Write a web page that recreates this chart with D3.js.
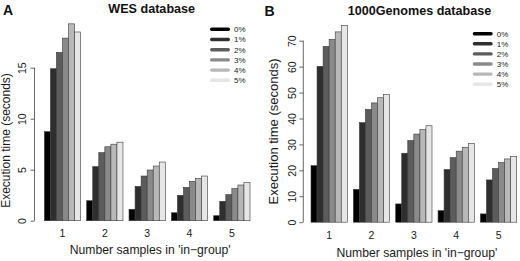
<!DOCTYPE html>
<html>
<head>
<meta charset="utf-8">
<script src="https://cdn.jsdelivr.net/npm/d3@7"></script>
<style>
  html, body { margin:0; padding:0; background:#fff; }
  svg { display:block; font-family:"Liberation Sans", Arial, Helvetica, sans-serif; }
</style>
</head>
<body>
<svg id="chart" width="520" height="261"></svg>
<script>
// ---- data ----
const groups = ["1", "2", "3", "4", "5"];
const pcts = ["0%", "1%", "2%", "3%", "4%", "5%"];
const grays = ["#000000", "#2e2e2e", "#5c5c5c", "#8a8a8a", "#b8b8b8", "#e6e6e6"];

const wesTimes = [
  [8.73, 14.9, 16.5, 17.9, 19.3, 18.5],
  [1.96, 5.3, 6.67, 7.25, 7.5, 7.7],
  [1.12, 3.37, 4.38, 4.97, 5.36, 5.75],
  [0.78, 2.49, 3.27, 3.86, 4.15, 4.38],
  [0.49, 1.9, 2.55, 3.14, 3.5, 3.73]
];
const wesTicks = [0, 5, 10, 15];

const genomesTimes = [
  [21.8, 60.1, 67.8, 70.5, 73.4, 75.9],
  [12.7, 38.4, 43.5, 46.0, 48.0, 49.2],
  [7.05, 26.6, 31.5, 34.0, 35.7, 37.2],
  [4.47, 20.3, 24.9, 27.4, 28.9, 30.3],
  [3.2, 16.3, 20.7, 23.0, 24.4, 25.4]
];
const genomesTicks = [0, 10, 20, 30, 40, 50, 60, 70];

const svg = d3.select("#chart");

function drawPanel(p){
  const g = svg.append("g");

  // barplot units: group k, bar i sits at 1 + 7k + i (R beside=TRUE spacing)
  const x = d3.scaleLinear().domain([0, 35]).range(p.xRange);
  const y = d3.scaleLinear().domain([0, p.yTop]).range(p.yRange);

  const bars = [];
  p.values.forEach((row, k) => row.forEach((v, i) => bars.push({k, i, v})));

  g.append("g")
    .selectAll("rect")
    .data(bars)
    .enter().append("rect")
    .attr("x", d => x(1 + 7*d.k + d.i))
    .attr("width", d => x(2 + 7*d.k + d.i) - x(1 + 7*d.k + d.i))
    .attr("y", d => y(d.v))
    .attr("height", d => y(0) - y(d.v))
    .attr("fill", d => grays[d.i])
    .attr("stroke", "#3a3a3a")
    .attr("stroke-width", 0.6);

  // y axis (R style, rotated labels)
  const ax = g.append("g").attr("transform", `translate(${p.axisX},0)`);
  ax.call(d3.axisLeft(y).tickValues(p.ticks).tickSize(4).tickPadding(0).tickFormat(() => ""));
  ax.select(".domain").attr("stroke", "#444").attr("stroke-width", 0.8).attr("d", `M0,${y(0)}V${y(p.ticks[p.ticks.length-1])}`);
  ax.selectAll(".tick line").attr("stroke", "#444").attr("stroke-width", 0.8);
  ax.selectAll(".tick").append("text")
    .attr("transform", `translate(${p.tickLabX - p.axisX},0) rotate(-90)`)
    .attr("text-anchor", "middle")
    .attr("fill", "#1a1a1a")
    .style("font-size", "10.5px")
    .text(d => d);

  // group labels
  g.append("g").selectAll("text")
    .data(groups)
    .enter().append("text")
    .attr("x", (d, k) => x(4 + 7*k))
    .attr("y", p.groupLabY)
    .attr("text-anchor", "middle")
    .attr("fill", "#1a1a1a")
    .style("font-size", "10.5px")
    .text(d => d);

  g.append("text")
    .attr("x", x(18.5)).attr("y", p.xLabY)
    .attr("text-anchor", "middle").attr("fill", "#1a1a1a")
    .style("font-size", "12.2px")
    .text("Number samples in 'in\u2212group'");

  g.append("text")
    .attr("transform", `translate(${p.yLabX},${p.yLabY}) rotate(-90)`)
    .attr("text-anchor", "middle").attr("fill", "#1a1a1a")
    .style("font-size", p.yLabSize + "px")
    .text("Execution time (seconds)");

  g.append("text")
    .attr("x", p.titleX).attr("y", p.titleY)
    .attr("text-anchor", "middle").attr("fill", "#111")
    .style("font-size", "12.6px").style("font-weight", "700")
    .text(p.title);

  g.append("text")
    .attr("x", p.letterX).attr("y", p.titleY + 1.5)
    .attr("fill", "#111")
    .style("font-size", "14px").style("font-weight", "700")
    .text(p.letter);

  // legend
  const lg = g.append("g").selectAll("g")
    .data(pcts)
    .enter().append("g")
    .attr("transform", (d, i) => `translate(${p.legX},${p.legY + i*p.legStep})`);
  lg.append("line")
    .attr("x1", 1.7).attr("x2", 18.3)
    .attr("stroke", (d, i) => grays[i])
    .attr("stroke-width", 3.4)
    .attr("stroke-linecap", "round");
  lg.append("text")
    .attr("x", 24).attr("y", 2.9)
    .attr("fill", "#222")
    .style("font-size", "8px")
    .text(d => d);
}

drawPanel({
  values: wesTimes, ticks: wesTicks, yTop: 15,
  xRange: [38.3, 250.0], yRange: [220.7, 67.7],
  axisX: 34.5, tickLabX: 25.5, groupLabY: 236.8, xLabY: 253.6,
  yLabX: 9.5, yLabY: 140.5, yLabSize: 12,
  title: "WES database", titleX: 151.7, titleY: 13.3, letter: "A", letterX: 3,
  legX: 210, legY: 29.3, legStep: 10.2
});

drawPanel({
  values: genomesTimes, ticks: genomesTicks, yTop: 70,
  xRange: [304.95, 516.7], yRange: [222.2, 40.7],
  axisX: 303.3, tickLabX: 296, groupLabY: 238.5, xLabY: 256.5,
  yLabX: 277.5, yLabY: 131.5, yLabSize: 13,
  title: "1000Genomes database", titleX: 419.5, titleY: 14.8, letter: "B", letterX: 264.5,
  legX: 472.7, legY: 33.7, legStep: 10.1
});
</script>
</body>
</html>
